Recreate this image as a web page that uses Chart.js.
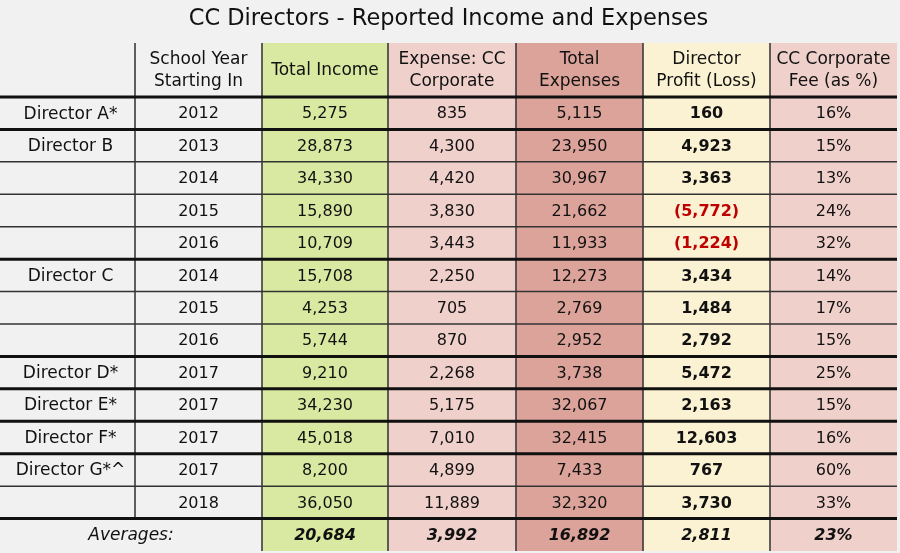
<!DOCTYPE html>
<html>
<head>
<meta charset="utf-8">
<script src="https://cdn.jsdelivr.net/npm/chart.js@4/dist/chart.umd.min.js"></script>
<style>
  html, body { margin: 0; padding: 0; background: #f1f1f1; }
  #wrap { width: 900px; height: 553px; }
</style>
</head>
<body>
<div id="wrap"><canvas id="c" width="900" height="553"></canvas></div>
<script>
// ---- DATA ----
const directors = ['Director A*', 'Director B', '', '', '', 'Director C', '', '', 'Director D*', 'Director E*', 'Director F*', 'Director G*^', ''];
const schoolYears = [2012, 2013, 2014, 2015, 2016, 2014, 2015, 2016, 2017, 2017, 2017, 2017, 2018];
const totalIncome = [5275, 28873, 34330, 15890, 10709, 15708, 4253, 5744, 9210, 34230, 45018, 8200, 36050];
const expenseCCCorporate = [835, 4300, 4420, 3830, 3443, 2250, 705, 870, 2268, 5175, 7010, 4899, 11889];
const totalExpenses = [5115, 23950, 30967, 21662, 11933, 12273, 2769, 2952, 3738, 32067, 32415, 7433, 32320];
const directorProfit = [160, 4923, 3363, -5772, -1224, 3434, 1484, 2792, 5472, 2163, 12603, 767, 3730];
const corporateFeePct = [16, 15, 13, 24, 32, 14, 17, 15, 25, 15, 16, 60, 33];
const averagesLabel = 'Averages:';
const averages = [20684, 3992, 16892, 2811, 23]; // income, expense CC, total expenses, profit, fee %
const headers = [[], ['School Year', 'Starting In'], ['Total Income'], ['Expense: CC', 'Corporate'], ['Total', 'Expenses'], ['Director', 'Profit (Loss)'], ['CC Corporate', 'Fee (as %)']];
const titleText = 'CC Directors - Reported Income and Expenses';

// ---- LAYOUT / STYLE ----
const COL_WIDTHS = [135, 127, 126, 128, 127, 127, 127];
const COL_COLORS = ['#f1f1f1', '#f1f1f1', '#dae9a1', '#f0d0cb', '#dca39a', '#faf2d2', '#f0d0cb'];
const HEADER_H = 54;
const FONT = '"DejaVu Sans", sans-serif';
const NUM_SIZE = 16;

const rowKeys = schoolYears.map((y, i) => (directors[i] || '') + ' ' + y + ' #' + i).concat(['Averages']);
const nRows = rowKeys.length;
const colStarts = COL_WIDTHS.map((w, i) => COL_WIDTHS.slice(0, i).reduce((a, b) => a + b, 0));
const totalW = COL_WIDTHS.reduce((a, b) => a + b, 0);

const fmt = v => Math.abs(v).toLocaleString('en-US');

const datasets = COL_WIDTHS.map((w, c) => ({
  label: 'col' + c,
  data: rowKeys.map(() => [colStarts[c], colStarts[c] + w]),
  backgroundColor: COL_COLORS[c],
  borderWidth: 0,
  barPercentage: 1,
  categoryPercentage: 1,
  grouped: false
}));

const tablePlugin = {
  id: 'tablePlugin',
  beforeDatasetsDraw(chart) {
    const ctx = chart.ctx, xs = chart.scales.x, ca = chart.chartArea;
    ctx.save();
    for (let c = 0; c < COL_WIDTHS.length; c++) {
      const x0 = xs.getPixelForValue(colStarts[c]);
      const x1 = xs.getPixelForValue(colStarts[c] + COL_WIDTHS[c]);
      ctx.fillStyle = COL_COLORS[c];
      ctx.fillRect(x0, ca.top - HEADER_H, x1 - x0, HEADER_H);
    }
    ctx.restore();
  },
  afterDatasetsDraw(chart) {
    const ctx = chart.ctx, xs = chart.scales.x, ys = chart.scales.y, ca = chart.chartArea;
    const headTop = ca.top - HEADER_H;
    const rowCenter = i => ys.getPixelForValue(i);
    const rowEdge = i => i <= 0 ? ca.top : (i >= nRows ? ca.bottom : (rowCenter(i - 1) + rowCenter(i)) / 2);
    const colX = v => xs.getPixelForValue(v);
    const colCenter = c => colX(colStarts[c] + COL_WIDTHS[c] / 2);
    ctx.save();
    // vertical lines
    ctx.strokeStyle = '#3a3a3a';
    ctx.lineWidth = 1.6;
    for (let c = 1; c < COL_WIDTHS.length; c++) {
      const x = colX(colStarts[c]);
      const yEnd = c === 1 ? rowEdge(nRows - 1) : ca.bottom;
      ctx.beginPath(); ctx.moveTo(x, headTop); ctx.lineTo(x, yEnd); ctx.stroke();
    }
    // horizontal lines
    const xL = colX(0), xR = colX(totalW);
    for (let i = 0; i < nRows; i++) {
      const thick = i === 0 || i === nRows - 1 || directors[i] !== '';
      const y = rowEdge(i);
      ctx.strokeStyle = thick ? '#111' : '#333';
      ctx.lineWidth = thick ? 3 : 1.5;
      ctx.beginPath(); ctx.moveTo(xL, y); ctx.lineTo(xR, y); ctx.stroke();
    }
    // header text
    ctx.fillStyle = '#111';
    ctx.textAlign = 'center';
    ctx.textBaseline = 'middle';
    ctx.font = '17px ' + FONT;
    const hMid = headTop + HEADER_H / 2 + 1;
    headers.forEach((lines, c) => {
      lines.forEach((t, k) => {
        const y = lines.length === 1 ? hMid : hMid + (k === 0 ? -11 : 11);
        ctx.fillText(t, colCenter(c), y);
      });
    });
    // body
    for (let i = 0; i < nRows - 1; i++) {
      const y = rowCenter(i) + 1;
      ctx.fillStyle = '#111';
      ctx.font = '17px ' + FONT;
      if (directors[i]) ctx.fillText(directors[i], colCenter(0) + 3, y);
      ctx.font = NUM_SIZE + 'px ' + FONT;
      ctx.fillText(String(schoolYears[i]), colCenter(1), y);
      ctx.fillText(fmt(totalIncome[i]), colCenter(2), y);
      ctx.fillText(fmt(expenseCCCorporate[i]), colCenter(3), y);
      ctx.fillText(fmt(totalExpenses[i]), colCenter(4), y);
      ctx.font = 'bold ' + NUM_SIZE + 'px ' + FONT;
      const p = directorProfit[i];
      ctx.fillStyle = p < 0 ? '#c00000' : '#111';
      ctx.fillText(p < 0 ? '(' + fmt(p) + ')' : fmt(p), colCenter(5), y);
      ctx.fillStyle = '#111';
      ctx.font = NUM_SIZE + 'px ' + FONT;
      ctx.fillText(corporateFeePct[i] + '%', colCenter(6), y);
    }
    // averages row
    const ya = rowCenter(nRows - 1) + 1;
    ctx.fillStyle = '#111';
    ctx.font = 'italic 17px ' + FONT;
    ctx.fillText(averagesLabel, colX(colStarts[1]) - 4, ya);
    ctx.font = 'italic bold ' + NUM_SIZE + 'px ' + FONT;
    averages.forEach((v, k) => {
      const txt = k === averages.length - 1 ? v + '%' : fmt(v);
      ctx.fillText(txt, colCenter(k + 2), ya);
    });
    ctx.restore();
  }
};

new Chart(document.getElementById('c'), {
  type: 'bar',
  data: { labels: rowKeys, datasets },
  options: {
    indexAxis: 'y',
    responsive: false,
    animation: false,
    devicePixelRatio: 1,
    layout: { padding: { top: 0, bottom: 2, left: 0, right: 3 } },
    scales: {
      x: { type: 'linear', min: 0, max: totalW, display: false },
      y: { type: 'category', display: false, offset: true }
    },
    plugins: {
      legend: { display: false },
      tooltip: { enabled: false },
      title: {
        display: true,
        text: titleText,
        color: '#111',
        font: { family: FONT, size: 22.5, weight: 'normal', lineHeight: 1.2 },
        padding: { top: 6, bottom: 97 - 6 - 22.5 * 1.2 }
      }
    }
  },
  plugins: [tablePlugin]
});
</script>
</body>
</html>
